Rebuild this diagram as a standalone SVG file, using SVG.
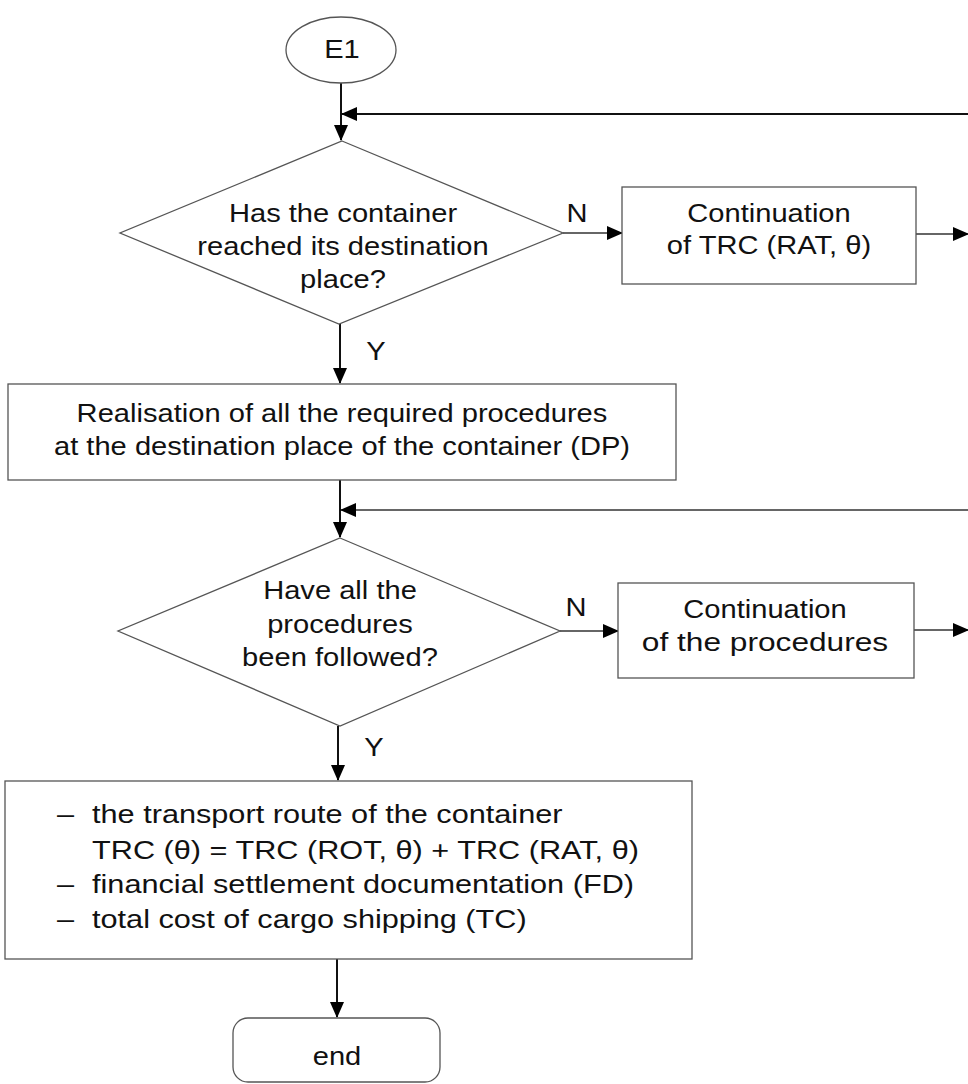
<svg xmlns="http://www.w3.org/2000/svg" width="968" height="1084" viewBox="0 0 968 1084">
<style>
.sh{fill:#fff;stroke:#555;stroke-width:1.3}
.t{font-family:"Liberation Sans",Arial,sans-serif;font-size:26px;fill:#111;text-anchor:middle}
.tl{font-family:"Liberation Sans",Arial,sans-serif;font-size:26px;fill:#111}
.c{fill:none;stroke:#111;stroke-width:2}
.c1{fill:none;stroke:#333;stroke-width:1.3}
</style>
<defs>
<marker id="ahb" markerWidth="16" markerHeight="14" refX="15" refY="7" orient="auto" markerUnits="userSpaceOnUse" viewBox="0 0 16 14">
<path d="M0,0 L16,7 L0,14 Z" fill="#000"/>
</marker>
</defs>
<rect width="968" height="1084" fill="#fff"/>
<g id="connectors">
<path class="c" d="M341,83 V140" marker-end="url(#ahb)"/>
<path class="c" d="M968,114 H342" marker-end="url(#ahb)"/>
<path class="c1" d="M563,233 H622" marker-end="url(#ahb)"/>
<path class="c1" d="M916,234 H968" marker-end="url(#ahb)"/>
<path class="c" d="M340,324 V383" marker-end="url(#ahb)"/>
<path class="c" d="M340,480 V537" marker-end="url(#ahb)"/>
<path class="c1" d="M968,510 H341" marker-end="url(#ahb)"/>
<path class="c1" d="M560,631 H618" marker-end="url(#ahb)"/>
<path class="c1" d="M914,630 H968" marker-end="url(#ahb)"/>
<path class="c" d="M338,726 V780" marker-end="url(#ahb)"/>
<path class="c" d="M337,959 V1017" marker-end="url(#ahb)"/>
<text class="t" transform="translate(577,0) scale(1.12,1)" y="222">N</text>
<text class="t" transform="translate(376,0) scale(1.12,1)" y="360">Y</text>
<text class="t" transform="translate(576,0) scale(1.12,1)" y="616">N</text>
<text class="t" transform="translate(374,0) scale(1.12,1)" y="756">Y</text>
</g>
<g id="E1">
<ellipse class="sh" cx="341" cy="50" rx="55" ry="33"/>
<text class="t" transform="translate(342,0) scale(1.12,1)" y="58">E1</text>
</g>
<g id="decision1">
<polygon class="sh" points="342,141 563,233 339,324 120,233"/>
<g transform="translate(343,0) scale(1.12,1)">
<text class="t" y="222">Has the container</text>
<text class="t" y="255">reached its destination</text>
<text class="t" y="288">place?</text>
</g>
</g>
<g id="continuation1">
<rect class="sh" x="622" y="187" width="294" height="97"/>
<g transform="translate(769,0) scale(1.12,1)">
<text class="t" y="222">Continuation</text>
<text class="t" y="254">of TRC (RAT, θ)</text>
</g>
</g>
<g id="realisation">
<rect class="sh" x="8" y="384" width="668" height="96"/>
<g transform="translate(342,0) scale(1.12,1)">
<text class="t" y="422">Realisation of all the required procedures</text>
<text class="t" y="455">at the destination place of the container (DP)</text>
</g>
</g>
<g id="decision2">
<polygon class="sh" points="340,538 560,631 340,726 118,631"/>
<g transform="translate(340,0) scale(1.12,1)">
<text class="t" y="599">Have all the</text>
<text class="t" y="633">procedures</text>
<text class="t" y="666">been followed?</text>
</g>
</g>
<g id="continuation2">
<rect class="sh" x="618" y="583" width="296" height="95"/>
<g transform="translate(765,0) scale(1.12,1)">
<text class="t" y="618">Continuation</text>
<text class="t" y="651" textLength="220" lengthAdjust="spacingAndGlyphs">of the procedures</text>
</g>
</g>
<g id="results">
<rect class="sh" x="5" y="781" width="687" height="178"/>
<g transform="translate(57,0) scale(1.18,1)">
<text class="tl" y="823">–</text>
<text class="tl" y="893">–</text>
<text class="tl" y="928">–</text>
</g>
<g transform="translate(92,0) scale(1.18,1)">
<text class="tl" y="823">the transport route of the container</text>
<text class="tl" y="859">TRC (θ) = TRC (ROT, θ) + TRC (RAT, θ)</text>
<text class="tl" y="893">financial settlement documentation (FD)</text>
<text class="tl" y="928">total cost of cargo shipping (TC)</text>
</g>
</g>
<g id="end">
<rect class="sh" x="233" y="1018" width="207" height="64" rx="15" ry="15"/>
<text class="t" transform="translate(337,0) scale(1.12,1)" y="1065">end</text>
</g>
</svg>
